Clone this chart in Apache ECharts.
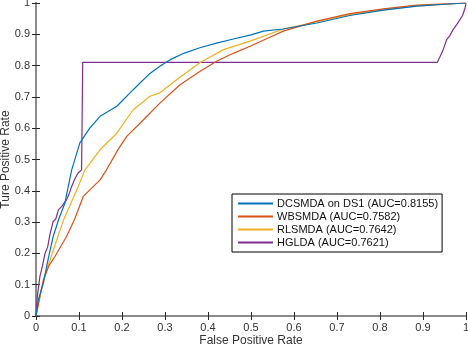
<!DOCTYPE html>
<html>
<head>
<meta charset="utf-8">
<script src="https://cdn.jsdelivr.net/npm/echarts@6/dist/echarts.min.js"></script>
<style>
  html, body { margin: 0; padding: 0; background: #fff; }
  #main { width: 468px; height: 348px; }
</style>
</head>
<body>
<div id="main"></div>
<script>
// ROC curves, [fpr, tpr] pairs
const dcsmda = [[0, 0], [0.005, 0.05], [0.017, 0.105], [0.028, 0.18], [0.040, 0.254], [0.053, 0.31], [0.067, 0.36], [0.083, 0.467],
  [0.102, 0.553], [0.125, 0.6], [0.149, 0.638], [0.188, 0.67], [0.226, 0.723], [0.265, 0.775], [0.288, 0.798], [0.312, 0.819],
  [0.345, 0.84], [0.381, 0.857], [0.42, 0.872], [0.459, 0.885], [0.5, 0.898], [0.529, 0.91], [0.575, 0.917], [0.653, 0.936],
  [0.73, 0.96], [0.808, 0.977], [0.885, 0.99], [0.95, 0.996], [1, 1]]
const wbsmda = [[0, 0], [0.017, 0.115], [0.03, 0.16], [0.044, 0.19], [0.071, 0.254], [0.09, 0.31], [0.11, 0.382], [0.149, 0.435],
  [0.164, 0.467], [0.19, 0.53], [0.211, 0.574], [0.25, 0.627], [0.288, 0.68], [0.335, 0.739], [0.38, 0.78], [0.42, 0.814],
  [0.46, 0.84], [0.498, 0.862], [0.54, 0.888], [0.575, 0.91], [0.653, 0.942], [0.73, 0.966], [0.808, 0.981], [0.885, 0.993], [1, 1]]
const rlsmda = [[0, 0], [0.012, 0.08], [0.025, 0.147], [0.045, 0.23], [0.064, 0.307], [0.095, 0.403], [0.114, 0.467], [0.149, 0.531],
  [0.188, 0.584], [0.226, 0.659], [0.265, 0.702], [0.288, 0.713], [0.327, 0.755], [0.381, 0.809], [0.436, 0.851], [0.498, 0.878],
  [0.575, 0.917], [0.653, 0.94], [0.73, 0.963], [0.808, 0.978], [0.885, 0.99], [1, 1]]
const hglda = [[0, 0], [0.003, 0.062], [0.009, 0.126], [0.015, 0.16], [0.021, 0.2], [0.027, 0.22], [0.033, 0.265], [0.04, 0.302],
  [0.046, 0.31], [0.052, 0.339], [0.06, 0.35], [0.071, 0.371], [0.077, 0.39], [0.083, 0.414], [0.091, 0.44], [0.098, 0.457],
  [0.098, 0.462], [0.106, 0.467], [0.1086, 0.467], [0.1086, 0.81], [0.933, 0.81], [0.94, 0.83], [0.947, 0.851], [0.955, 0.883],
  [0.962, 0.895], [0.97, 0.915], [0.978, 0.93], [0.986, 0.947], [0.992, 0.96], [0.998, 0.985], [1, 1]]

const seriesNames = ['DCSMDA on DS1 (AUC=0.8155)', 'WBSMDA (AUC=0.7582)', 'RLSMDA (AUC=0.7642)', 'HGLDA (AUC=0.7621)']
const seriesData = [dcsmda, wbsmda, rlsmda, hglda]
const colors = ['#0072BD', '#D95319', '#EDB120', '#7E2F8E']

const font = 'Liberation Sans, Arial, Helvetica, sans-serif'
const fmt = v => String(+v.toFixed(1))

const myChart = echarts.init(document.getElementById('main'))
const option = {
  animation: false,
  color: colors,
  textStyle: { fontFamily: font },
  grid: { left: 36, right: 2, top: 3, bottom: 32, containLabel: false, outerBoundsMode: 'none' },
  legend: {
    orient: 'vertical',
    left: 232,
    top: 194,
    width: 203,
    padding: [4, 4, 4, 6],
    itemGap: 2,
    itemWidth: 35,
    itemHeight: 2,
    icon: 'rect',
    borderColor: '#000',
    borderWidth: 1,
    backgroundColor: '#fff',
    textStyle: { fontSize: 11, color: '#111', fontFamily: font, padding: [0, 0, 0, -1] },
    data: seriesNames
  },
  xAxis: [{
    type: 'value', min: 0, max: 1, interval: 0.1,
    name: 'False Positive Rate', nameLocation: 'middle', nameGap: 19, nameMoveOverlap: false,
    nameTextStyle: { fontSize: 12, color: '#333' },
    axisLine: { lineStyle: { color: '#262626', width: 1 } },
    axisTick: { inside: true, length: 4, lineStyle: { color: '#262626' } },
    axisLabel: { fontSize: 11, color: '#333', margin: 6, formatter: fmt },
    splitLine: { show: false }
  }, {
    type: 'value', min: 0, max: 1, interval: 0.1, position: 'top',
    axisLine: { lineStyle: { color: '#8c8c8c', width: 2 } },
    axisTick: { inside: true, length: 4, lineStyle: { color: '#262626' } },
    axisLabel: { show: false },
    splitLine: { show: false }
  }],
  yAxis: [{
    type: 'value', min: 0, max: 1, interval: 0.1,
    name: 'Ture Positive Rate', nameLocation: 'middle', nameGap: 24, nameMoveOverlap: false,
    nameTextStyle: { fontSize: 12, color: '#333' },
    axisLine: { show: true, lineStyle: { color: '#8c8c8c', width: 2 } },
    axisTick: { show: true, inside: true, length: 4, lineStyle: { color: '#262626' } },
    axisLabel: { fontSize: 11, color: '#333', margin: 6, formatter: fmt },
    splitLine: { show: false }
  }, {
    type: 'value', min: 0, max: 1, interval: 0.1, position: 'right',
    axisLine: { show: true, lineStyle: { color: '#8c8c8c', width: 2 } },
    axisTick: { show: true, inside: true, length: 4, lineStyle: { color: '#262626' } },
    axisLabel: { show: false },
    splitLine: { show: false }
  }],
  series: []
}

seriesData.forEach((d, i) => {
  option.series.push({
    name: seriesNames[i],
    type: 'line',
    data: d,
    showSymbol: false,
    symbol: 'none',
    lineStyle: { width: 1.2, color: colors[i] },
    z: 10 - i
  })
})

myChart.setOption(option)
</script>
</body>
</html>
